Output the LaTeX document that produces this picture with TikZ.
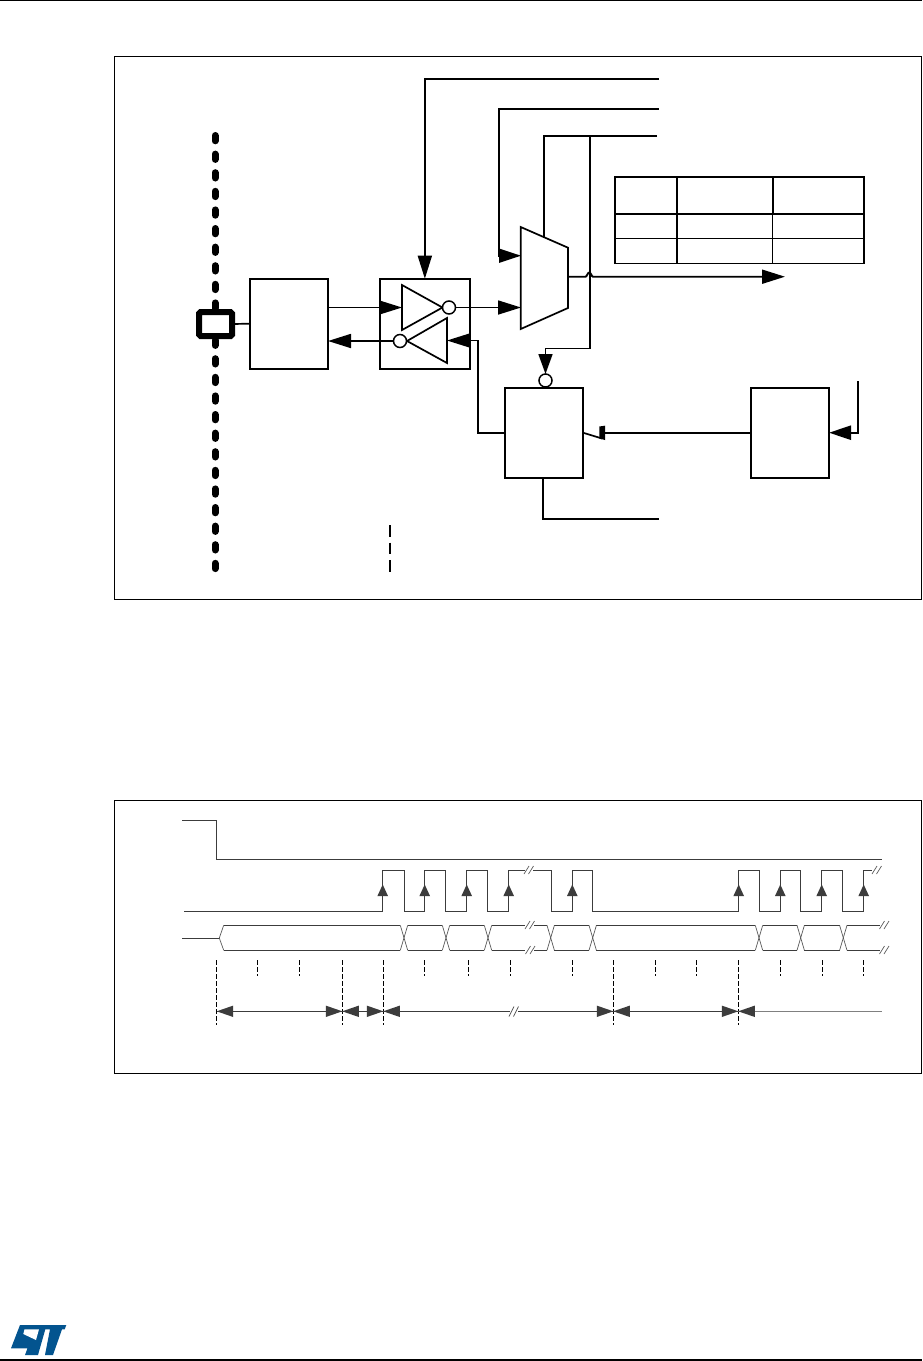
\documentclass[tikz,border=0pt]{standalone}
\usetikzlibrary{arrows.meta}
\definecolor{stblue}{HTML}{03548F}
\definecolor{tgray}{HTML}{3C3C3C}
\tikzset{
  x=1pt,y=-1pt,
  blk/.style={line width=1.7pt,black},
  thick2/.style={line width=2.3pt,black},
  wirearrow/.style={line width=1.7pt,black,-{Triangle[length=23pt,width=14pt]}},
  inv/.style={circle,draw=black,fill=white,line width=1.5pt,minimum size=13pt,inner sep=0pt,outer sep=0pt},
  boxn/.style={draw=black,line width=1.7pt,fill=none,inner sep=0pt,outer sep=0pt,anchor=north west},
  tim/.style={line width=1pt,tgray},
  dataline/.style={line width=0.7pt,tgray!85},
  tick/.style={line width=0.9pt,black,dash pattern=on 4.5pt off 2.5pt},
  span/.style={line width=1pt,tgray},
  brk/.style={line width=0.7pt,tgray!85},
}
\begin{document}
\begin{tikzpicture}
\useasboundingbox (0,0) rectangle (922,1361);
\fill[white] (0,0) rectangle (922,1361);
% page rules
\draw[line width=1pt,black] (0,0.5) -- (922,0.5);
\draw[line width=1.2pt,black] (0,1360) -- (922,1360);
% frames
\draw[line width=1pt,black] (114.3,56.3) rectangle (921,599.3);
\draw[line width=1pt,black] (114.3,800.3) rectangle (921,1073);
% bus dots
\draw[line width=7pt,line cap=round,black,dash pattern=on 5.3pt off 13.3pt] (215,135.5) -- (215,570);
% pad
\node[draw=black,fill=white,line width=6pt,rounded corners=1.5pt,minimum width=33pt,minimum height=24pt,inner sep=0pt,outer sep=0pt,anchor=center] (pad) at (215.5,324) {};
% boxes
\node[boxn,minimum width=78pt,minimum height=90pt] (boxa) at (250,278.7) {};
\node[boxn,minimum width=90.3pt,minimum height=90pt] (boxb) at (379.7,278.7) {};
\node[boxn,minimum width=78pt,minimum height=90pt] (boxc) at (505,387.7) {};
\node[boxn,minimum width=78.3pt,minimum height=90pt] (boxd) at (750.7,387.7) {};
\draw[blk] (pad.east) -- (boxa.west);
% inverters
\draw[blk,line join=miter] (402,285) -- (442.5,307.5) -- (402,330) -- cycle;
\node[inv] (c1) at (449,307.5) {};
\draw[blk,line join=miter] (447,318) -- (407,341) -- (447,363) -- cycle;
\node[inv] (c2) at (400,341) {};
\coordinate (i1in) at (402,307.5);
\coordinate (i2in) at (447,340.5);
\coordinate (ba1) at (328,307.5);
\draw[wirearrow] (ba1) -- (i1in);
\coordinate (ba2) at (328,341);
\draw[wirearrow] (c2.west) -- (ba2);
% mux
\draw[blk,line join=miter] (520.7,227) -- (568,247.7) -- (568,308) -- (520.7,329) -- cycle;
\coordinate (muxin1) at (521,307.5);
\coordinate (muxin2) at (521,255.7);
\draw[wirearrow] (c1.east) -- (muxin1);
% top control lines
\coordinate (t1) at (659,79);
\coordinate (t2) at (658.5,109);
\coordinate (t3) at (657,136);
\draw[wirearrow] (t1) -| (boxb.north);
\draw[blk,-{Triangle[length=22pt,width=14pt]}] (t2) -- (499,109) -- (499,255.7) -- (muxin2);
\draw[blk] (t3) -- (544,136) -- (544,237);
% to gate of box C
\node[inv] (c3) at (545.5,380.5) {};
\draw[blk,line join=miter,-{Triangle[length=20pt,width=14pt]}] (590,136) -- (590,348.5) -- (545.5,348.5) -- (c3.north);
% from box C to inverter 2
\draw[wirearrow] (boxc.west) ++(0,0) -- (478,432.7) -- (478,340.5) -- (i2in);
% output with jump
\coordinate (muxout) at (568,276.7);
\coordinate (outend) at (785,276.7);
\draw[line width=1.9pt,black,-{Triangle[length=23pt,width=14pt]}] (muxout) -- (585.5,276.7) .. controls (587,276.7) and (587.5,272.5) .. (589.3,272.5) .. controls (591,272.5) and (591.5,276.7) .. (593,276.7) -- (outend);
% table
\draw[line width=1.1pt,black] (615,213.7) rectangle (864,263.3);
\draw[line width=1.1pt,black] (615,238.3) -- (864,238.3);
\draw[line width=1.1pt,black] (677,213.7) -- (677,263.3) (772.7,213.7) -- (772.7,263.3);
\draw[line width=2pt,black] (615,177) rectangle (864,213.7);
\draw[line width=2pt,black] (677,177) -- (677,213.7) (772.7,177) -- (772.7,213.7);
% switch between C and D
\draw[blk] (583,432.7) -- (602,438.5);
\fill[black] (599.3,426.5) -- (605,425.7) -- (605,440) -- (599.3,438.5) -- cycle;
\draw[line width=1.7pt,black] (boxd.west) -- (604,432.7);
% into D
\coordinate (dtop) at (858,381);
\draw[thick2,-{Triangle[length=22pt,width=14pt]}] (dtop) -- (858,432.7) -- (boxd.east);
% C bottom
\coordinate (cend) at (659,518.7);
\draw[thick2,line join=miter] (543.3,477.7) -- (543.3,518.7) -- (cend);
% separator dashes
\draw[line width=1.5pt,black,dash pattern=on 11.5pt off 6pt] (390,525) -- (390,572);
% ---------- timing ----------
\draw[tim] (182,820) -- (216.7,820) -- (216.7,859.3) -- (882,859.3);
% clock
\draw[tim] (184,911.3) -- (382.7,911.3) -- (382.7,870.3) -- (404.7,870.3) -- (404.7,911.3) -- (424.7,911.3) -- (424.7,870.3) -- (445.7,870.3) -- (445.7,911.3) -- (466.7,911.3) -- (466.7,870.3) -- (487.7,870.3) -- (487.7,911.3) -- (508.7,911.3) -- (508.7,870.3) -- (525,870.3);
\draw[tim] (533,870.3) -- (551.7,870.3) -- (551.7,911.3) -- (572.3,911.3) -- (572.3,870.3) -- (592.3,870.3) -- (592.3,911.3) -- (738.7,911.3) -- (738.7,870.3) -- (759.7,870.3) -- (759.7,911.3) -- (780.3,911.3) -- (780.3,870.3) -- (800.3,870.3) -- (800.3,911.3) -- (821.7,911.3) -- (821.7,870.3) -- (842.3,870.3) -- (842.3,911.3) -- (863.7,911.3) -- (863.7,870.3) -- (872,870.3);
% clock arrows
\foreach \xa in {382.7,424.7,466.7,508.7,572.3,738.7,780.3,821.7,863.7}
  \fill[tgray] (\xa,884.5) -- (\xa+5.3,896) -- (\xa-5.3,896) -- cycle;
% double-slash breaks: left x / baseline y
\foreach \xa/\ya in {524/874,872/874,525/929,879.5/929,525.5/954,879.5/954}{
  \draw[brk] (\xa,\ya) -- (\xa+5,\ya-8);
  \draw[brk] (\xa+4.5,\ya) -- (\xa+9.5,\ya-8);
}
% data bus
\draw[tim] (182,938) -- (219.3,938);
\draw[dataline] (219.3,938) -- (223.7,925.3) (219.3,938) -- (223.7,950.3);
\foreach \xa/\xb in {223.7/400.3,407.7/442.3,449.7/484.3,491.7/525,534/547,554.4/589,596.4/755.3,762.7/797,804.4/839.6,847/880}{
  \draw[tim] (\xa,925.3) -- (\xb,925.3);
  \draw[tim] (\xa,950.3) -- (\xb,950.3);
}
\foreach \xa in {404,446,488,550.7,592.7,759,800.7,843.3}{
  \draw[dataline] (\xa-3.7,925.3) -- (\xa+3.7,950.3);
  \draw[dataline] (\xa-3.7,950.3) -- (\xa+3.7,925.3);
}
% ticks
\foreach \xa in {257.3,299.3,424.3,468.3,510.3,572.3,655.3,696.7,780.3,822.3,863.7}
  \draw[tick] (\xa,960) -- (\xa,976);
\foreach \xa in {216.7,342.3,383.3,613.3,738.3}
  \draw[tick] (\xa,960) -- (\xa,1024.5);
% span arrows
\draw[span] (216.7,1011.3) -- (342.3,1011.3);
\draw[span] (342.3,1011.3) -- (383.3,1011.3);
\draw[span] (383.3,1011.3) -- (510,1011.3);
\draw[span] (518,1011.3) -- (738.3,1011.3);
\draw[span,tgray!65] (738.3,1011.3) -- (882,1011.3);
\draw[brk] (509,1016.5) -- (514,1006.5) (513.5,1016.5) -- (518.5,1006.5);
\foreach \xa in {216.7,342.3,383.3,613.3,738.3}
  \fill[tgray] (\xa,1011.3) -- (\xa+16.5,1005.6) -- (\xa+16.5,1017) -- cycle;
\foreach \xa in {342.3,383.3,613.3,738.3}
  \fill[tgray] (\xa,1011.3) -- (\xa-16.5,1005.6) -- (\xa-16.5,1017) -- cycle;
% logo
\fill[stblue] (20,1325) -- (66.3,1325) -- (64.7,1329.3) -- (62,1329.3) -- (53,1355) -- (45,1355) -- (50,1329.3) -- (45.3,1329.3) -- (38,1355) -- (25,1355) -- (27.5,1348.3) -- (11,1348.3) -- cycle;
\fill[white] (24.5,1329.3) -- (39,1329.3) -- (36,1340) -- (23.3,1334) -- cycle;
\end{tikzpicture}
\end{document}
